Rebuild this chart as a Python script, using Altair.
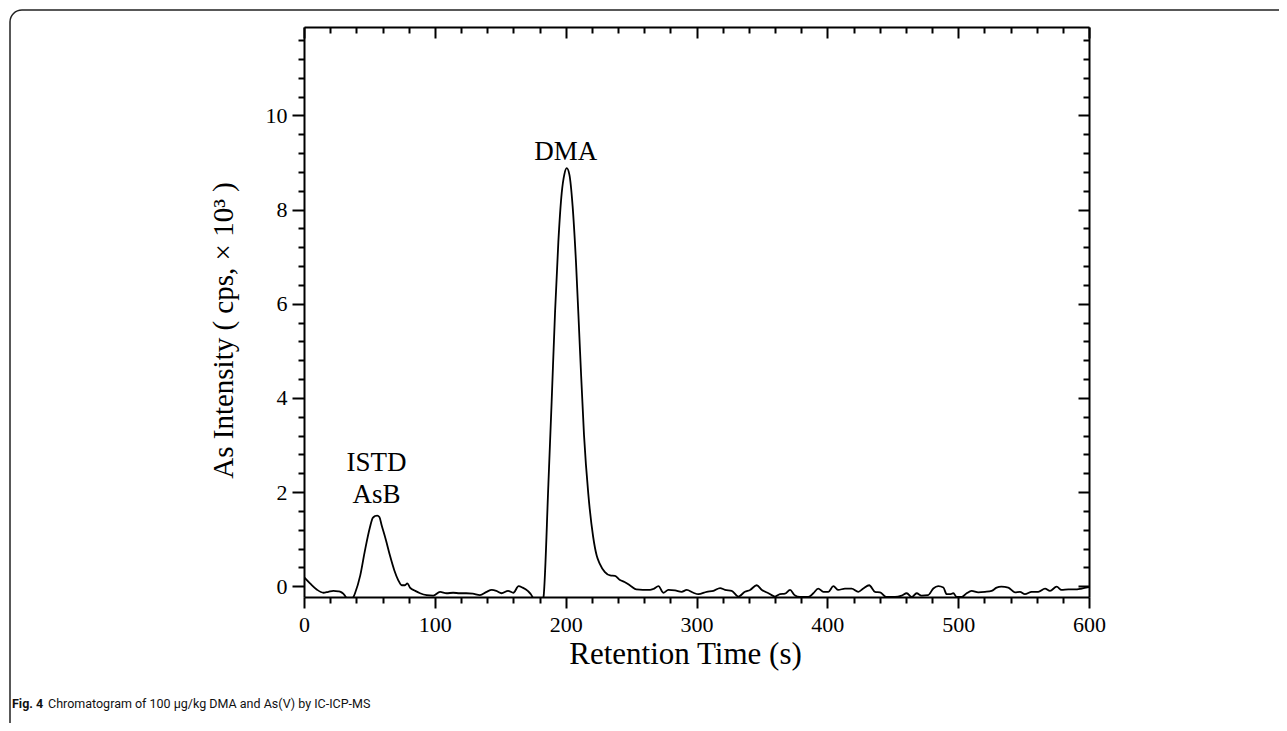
import altair as alt
import pandas as pd

# ---------------- data ----------------
time_s = [0, 4.6, 9.7, 14.8, 18.6, 22.4, 26.2, 28, 30, 32.6, 35, 37.5, 39, 43, 46.6,
          50.4, 52.5, 54.3, 56, 57.6, 59.4, 62.7, 65.7, 69, 72, 74.7, 77.2, 79, 81, 85,
          88.7, 93.8, 98.8, 104, 109, 114, 119, 124, 129, 134.5, 139.6, 143.5, 147, 151,
          156, 160, 164, 167, 171, 174.5, 177, 180, 183, 186.8, 189.3, 191.9, 194.4, 197,
          199, 200.8, 202.8, 205.3, 207.9, 211, 214, 217.3, 221, 223.7, 226, 230, 234,
          237.7, 241.5, 245, 250, 254, 259, 264.5, 267, 271, 274.6, 278.5, 283.6, 288.7,
          292.5, 297.6, 301.4, 307.8, 312.9, 318, 321.8, 326.9, 332, 337, 341, 346, 350,
          355, 360, 363.8, 367.6, 371.5, 375, 379, 385.5, 389.3, 393, 397, 400.8, 404.6,
          408.4, 413.5, 418.6, 423.7, 427.5, 432, 436.4, 440.3, 445, 451.7, 456.8, 460.7,
          464.5, 468.3, 472, 477, 481, 484.8, 488.7, 491.2, 493.8, 496.3, 498.9, 502.7,
          506.5, 510.3, 515.4, 520.5, 525.6, 529.4, 533, 538.3, 543.4, 547.2, 551, 556.2,
          561.2, 566.4, 570.2, 575.3, 579, 584.2, 589.3, 594.4, 600]
intensity = [0.19, 0.06, -0.07, -0.14, -0.12, -0.10, -0.11, -0.12, -0.16, -0.26, -0.40,
             -0.25, -0.15, 0.23, 0.76, 1.25, 1.45, 1.49, 1.50, 1.47, 1.29, 0.97, 0.65,
             0.34, 0.13, 0.02, 0.02, 0.06, -0.03, -0.10, -0.15, -0.19, -0.20, -0.12,
             -0.15, -0.14, -0.15, -0.15, -0.16, -0.19, -0.12, -0.08, -0.10, -0.15, -0.10,
             -0.14, 0.00, -0.03, -0.10, -0.22, -0.40, -0.50, -0.25, 2.17, 3.93, 5.83,
             7.31, 8.36, 8.75, 8.88, 8.75, 8.08, 6.88, 4.98, 3.22, 1.96, 1.05, 0.65, 0.48,
             0.30, 0.23, 0.22, 0.13, 0.09, 0.00, -0.07, -0.08, -0.08, -0.06, 0.00, -0.14,
             -0.08, -0.09, -0.12, -0.08, -0.14, -0.17, -0.12, -0.10, -0.04, -0.08, -0.10,
             -0.22, -0.12, -0.08, 0.02, -0.08, -0.15, -0.22, -0.17, -0.16, -0.08, -0.19,
             -0.23, -0.23, -0.15, -0.05, -0.12, -0.12, 0.00, -0.08, -0.05, -0.05, -0.12,
             -0.05, 0.02, -0.12, -0.13, -0.23, -0.23, -0.20, -0.15, -0.23, -0.15, -0.20,
             -0.19, -0.05, 0.00, -0.03, -0.17, -0.17, -0.15, -0.23, -0.23, -0.15, -0.10,
             -0.13, -0.12, -0.10, -0.03, -0.01, -0.03, -0.13, -0.12, -0.17, -0.12, -0.12,
             -0.05, -0.10, -0.01, -0.08, -0.07, -0.07, -0.05, -0.02]

peak_labels = ["ISTD", "AsB", "DMA"]
peak_label_x = [55.5, 55.5, 200]
peak_label_y = [2.62, 1.94, 9.23]

x_major = [0, 100, 200, 300, 400, 500, 600]
x_minor = [20, 40, 60, 80, 120, 140, 160, 180, 220, 240, 260, 280, 320, 340, 360, 380,
           420, 440, 460, 480, 520, 540, 560, 580]
y_major = [0, 2, 4, 6, 8, 10]
y_minor = [0.4, 0.8, 1.2, 1.6, 2.4, 2.8, 3.2, 3.6, 4.4, 4.8, 5.2, 5.6, 6.4, 6.8, 7.2,
           7.6, 8.4, 8.8, 9.2, 9.6, 10.4, 10.8, 11.2, 11.6]

x_title = "Retention Time (s)"
y_title = "As Intensity ( cps, × 10³ )"
caption_bold = "Fig. 4"
caption_text = "Chromatogram of 100 µg/kg DMA and As(V) by IC-ICP-MS"

# ---------------- chart ----------------
W, H = 785, 570
SERIF = "Liberation Serif"
SANS = "Roboto"
INK = "black"

df = pd.DataFrame({"t": time_s, "v": intensity})
ann = pd.DataFrame({"label": peak_labels, "t": peak_label_x, "v": peak_label_y})
one = pd.DataFrame({"k": [0]})

xs = alt.Scale(domain=[0, 600], nice=False, zero=False)
ys = alt.Scale(domain=[-0.23, 11.88], nice=False, zero=False)

common = dict(grid=False, tickColor=INK, tickWidth=2, domainColor=INK, domainWidth=2)

def ax(**kw):
    d = dict(common)
    d.update(kw)
    return alt.Axis(**d)

base = alt.Chart(df)

line = base.mark_line(color=INK, strokeWidth=1.8, clip=True, interpolate="monotone").encode(
    x=alt.X("t:Q", scale=xs, axis=ax(orient="bottom", values=x_major, tickSize=11,
                                      labelFont=SERIF, labelFontSize=22, labelPadding=6,
                                      labelColor=INK, labelFlush=False, format="d",
                                      title=x_title, titleFont=SERIF, titleFontSize=31,
                                      titleFontWeight="normal", titleColor=INK,
                                      titlePadding=4, titleX=381)),
    y=alt.Y("v:Q", scale=ys, axis=ax(orient="left", values=y_major, tickSize=12,
                                      labelFont=SERIF, labelFontSize=22, labelPadding=5,
                                      labelColor=INK, format="d",
                                      title=y_title, titleFont=SERIF, titleFontSize=29,
                                      titleFontWeight="normal", titleColor=INK,
                                      titlePadding=27, titleY=303)),
)

minor_bl = base.mark_line(strokeOpacity=0, clip=True).encode(
    x=alt.X("t:Q", scale=xs, axis=ax(orient="bottom", values=x_minor, tickSize=6,
                                      labels=False, domain=False, title=None)),
    y=alt.Y("v:Q", scale=ys, axis=ax(orient="left", values=y_minor, tickSize=6,
                                      labels=False, domain=False, title=None)),
)

major_tr = base.mark_line(strokeOpacity=0, clip=True).encode(
    x=alt.X("t:Q", scale=xs, axis=ax(orient="bottom", offset=-H, values=x_major,
                                      tickSize=11, labels=False, title=None)),
    y=alt.Y("v:Q", scale=ys, axis=ax(orient="left", offset=-W, values=y_major,
                                      tickSize=11, labels=False, title=None)),
)

minor_tr = base.mark_line(strokeOpacity=0, clip=True).encode(
    x=alt.X("t:Q", scale=xs, axis=ax(orient="bottom", offset=-H, values=x_minor,
                                      tickSize=6, labels=False, domain=False, title=None)),
    y=alt.Y("v:Q", scale=ys, axis=ax(orient="left", offset=-W, values=y_minor,
                                      tickSize=6, labels=False, domain=False, title=None)),
)

labels = alt.Chart(ann).mark_text(font=SERIF, fontSize=27, color=INK,
                                  align="center", baseline="middle").encode(
    x=alt.X("t:Q", scale=xs, axis=None),
    y=alt.Y("v:Q", scale=ys, axis=None),
    text="label:N",
)

frame = alt.Chart(one).mark_rect(fillOpacity=0, stroke="#222222", strokeWidth=1.5,
                                 cornerRadius=12).encode(
    x=alt.value(-294), x2=alt.value(1200), y=alt.value(-17), y2=alt.value(760)
)

cap1 = alt.Chart(one).mark_text(font=SANS, fontSize=12.5, fontWeight="bold", color="#111111",
                                align="left", baseline="middle").encode(
    x=alt.value(-292), y=alt.value(677), text=alt.value(caption_bold)
)
cap2 = alt.Chart(one).mark_text(font=SANS, fontSize=12.5, color="#111111",
                                align="left", baseline="middle").encode(
    x=alt.value(-256), y=alt.value(677), text=alt.value(caption_text)
)

chart = alt.layer(frame, line, minor_bl, major_tr, minor_tr, labels, cap1, cap2).resolve_axis(
    x="independent", y="independent"
).properties(
    width=W, height=H,
    autosize=alt.AutoSizeParams(type="none"),
    padding={"left": 296, "top": 19, "right": 190, "bottom": 126},
    background="white",
).configure_view(strokeWidth=0)

chart.save("out.html", embed_options={"renderer": "svg", "actions": False})
